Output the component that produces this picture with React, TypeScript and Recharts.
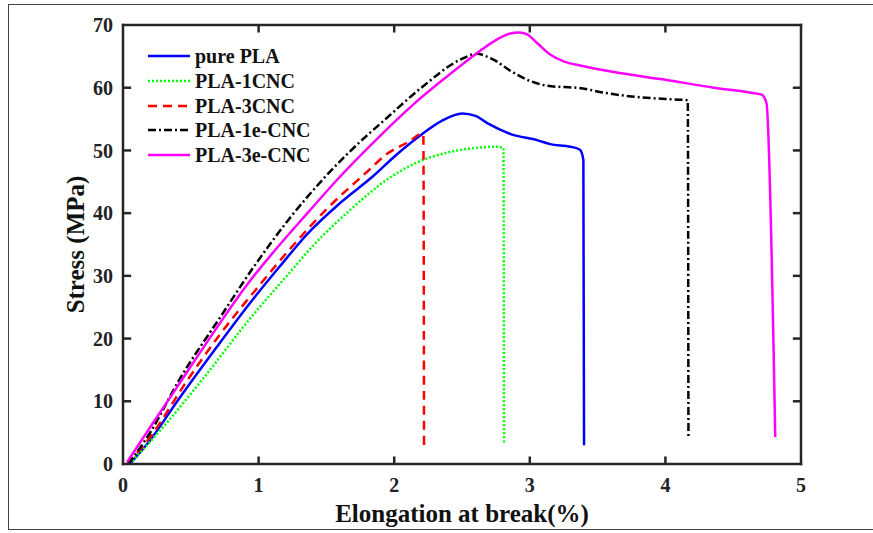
import React from 'react';
import { LineChart, Line, XAxis, YAxis, Legend, ReferenceLine } from 'recharts';

const xTicks = [0, 1, 2, 3, 4, 5];
const yTicks = [0, 10, 20, 30, 40, 50, 60, 70];

const purePLA = [
  { x: 0.05, y: 0 }, { x: 0.2, y: 3.8 }, { x: 0.4, y: 10.0 }, { x: 0.69, y: 18.6 }, { x: 0.96, y: 26.3 },
  { x: 1.16, y: 31.6 }, { x: 1.36, y: 36.7 }, { x: 1.6, y: 41.6 }, { x: 1.85, y: 46.0 }, { x: 2.0, y: 49.0 },
  { x: 2.2, y: 52.5 }, { x: 2.35, y: 54.7 }, { x: 2.5, y: 55.9 }, { x: 2.6, y: 55.5 }, { x: 2.69, y: 54.3 },
  { x: 2.86, y: 52.6 }, { x: 3.06, y: 51.6 }, { x: 3.15, y: 51.0 }, { x: 3.3, y: 50.6 }, { x: 3.37, y: 50.1 },
  { x: 3.395, y: 48.5 }, { x: 3.4, y: 3.0 },
];

const pla1CNC = [
  { x: 0.05, y: 0 }, { x: 0.3, y: 6.0 }, { x: 0.59, y: 13.6 }, { x: 0.96, y: 23.8 }, { x: 1.2, y: 29.8 },
  { x: 1.41, y: 35.0 }, { x: 1.68, y: 40.6 }, { x: 1.95, y: 45.4 }, { x: 2.15, y: 47.9 }, { x: 2.42, y: 49.8 },
  { x: 2.6, y: 50.4 }, { x: 2.74, y: 50.6 }, { x: 2.805, y: 50.4 }, { x: 2.81, y: 3.3 },
];

const pla3CNC = [
  { x: 0.03, y: 0 }, { x: 0.2, y: 4.3 }, { x: 0.47, y: 13.2 }, { x: 0.72, y: 20.8 }, { x: 1.01, y: 28.6 },
  { x: 1.26, y: 35.0 }, { x: 1.5, y: 40.6 }, { x: 1.8, y: 46.6 }, { x: 1.95, y: 49.5 }, { x: 2.1, y: 51.3 },
  { x: 2.21, y: 52.7 }, { x: 2.215, y: 52.4 }, { x: 2.22, y: 3.0 },
];

const pla1eCNC = [
  { x: 0.04, y: 0 }, { x: 0.2, y: 5.0 }, { x: 0.42, y: 13.6 }, { x: 0.72, y: 23.5 }, { x: 0.96, y: 31.3 },
  { x: 1.23, y: 39.2 }, { x: 1.5, y: 46.0 }, { x: 1.8, y: 52.4 }, { x: 1.9, y: 54.3 }, { x: 2.2, y: 60.0 },
  { x: 2.49, y: 64.5 }, { x: 2.61, y: 65.4 }, { x: 2.72, y: 64.6 }, { x: 2.88, y: 62.4 }, { x: 3.0, y: 61.1 },
  { x: 3.13, y: 60.3 }, { x: 3.38, y: 59.9 }, { x: 3.55, y: 59.2 }, { x: 3.75, y: 58.6 }, { x: 4.0, y: 58.2 },
  { x: 4.165, y: 58.0 }, { x: 4.17, y: 4.0 },
];

const pla3eCNC = [
  { x: 0.03, y: 0.3 }, { x: 0.22, y: 6.5 }, { x: 0.4, y: 12.3 }, { x: 0.6, y: 18.8 }, { x: 0.94, y: 29.3 },
  { x: 1.11, y: 33.8 }, { x: 1.36, y: 40.0 }, { x: 1.6, y: 45.8 }, { x: 1.9, y: 52.4 }, { x: 2.15, y: 57.5 },
  { x: 2.39, y: 61.8 }, { x: 2.61, y: 65.5 }, { x: 2.75, y: 67.6 }, { x: 2.85, y: 68.6 }, { x: 2.92, y: 68.8 },
  { x: 2.98, y: 68.5 }, { x: 3.06, y: 67.0 }, { x: 3.15, y: 65.3 }, { x: 3.25, y: 64.2 }, { x: 3.38, y: 63.5 },
  { x: 3.62, y: 62.5 }, { x: 3.99, y: 61.3 }, { x: 4.36, y: 60.0 }, { x: 4.63, y: 59.2 }, { x: 4.71, y: 58.9 },
  { x: 4.745, y: 57.6 }, { x: 4.81, y: 4.3 },
];

const series = [
  { name: 'pure PLA', data: purePLA, color: '#0000ff', dash: undefined as string | undefined },
  { name: 'PLA-1CNC', data: pla1CNC, color: '#00ff00', dash: '2 2' },
  { name: 'PLA-3CNC', data: pla3CNC, color: '#ff0000', dash: '9 6' },
  { name: 'PLA-1e-CNC', data: pla1eCNC, color: '#000000', dash: '8 3 2 3' },
  { name: 'PLA-3e-CNC', data: pla3eCNC, color: '#ff00ff', dash: undefined as string | undefined },
];

const X_MIN = 0;
const X_MAX = 5;
const Y_MIN = 0;
const Y_MAX = 70;
// inward tick-mark lengths, in data units
const X_TICK_LEN = 0.06;
const Y_TICK_LEN = 1.2;

const FONT = '"Liberation Serif", "Times New Roman", serif';
const AXIS = '#262626';

const BottomTick = (props: any) => {
  const { x, y, payload } = props;
  return (
    <text x={x} y={y + 14} dy="0.71em" textAnchor="middle" fontFamily={FONT} fontSize={20} fontWeight="bold" fill="#222">
      {payload.value}
    </text>
  );
};

const LeftTick = (props: any) => {
  const { x, y, payload } = props;
  return (
    <text x={x - 10} y={y} dy="0.355em" textAnchor="end" fontFamily={FONT} fontSize={20} fontWeight="bold" fill="#222">
      {payload.value}
    </text>
  );
};

function LegendContent() {
  return (
    <div style={{ fontFamily: FONT, fontWeight: 'bold', fontSize: 20, color: '#111' }}>
      {series.map((s) => (
        <div key={s.name} style={{ display: 'flex', alignItems: 'center', height: 24.7 }}>
          <svg width={44} height={10} style={{ marginRight: 3 }}>
            <line x1={0} y1={5} x2={42} y2={5} stroke={s.color} strokeWidth={2.5} strokeDasharray={s.dash} />
          </svg>
          <span style={{ lineHeight: '24px' }}>{s.name}</span>
        </div>
      ))}
    </div>
  );
}

export default function App() {
  // frame of the plot box, from the axis domains
  const boxSegments: { x: number; y: number }[][] = [
    [{ x: X_MIN, y: Y_MIN }, { x: X_MAX, y: Y_MIN }],
    [{ x: X_MIN, y: Y_MAX }, { x: X_MAX, y: Y_MAX }],
    [{ x: X_MIN, y: Y_MIN }, { x: X_MIN, y: Y_MAX }],
    [{ x: X_MAX, y: Y_MIN }, { x: X_MAX, y: Y_MAX }],
  ];
  const tickSegments: { x: number; y: number }[][] = [];
  xTicks.slice(1, -1).forEach((v) => {
    tickSegments.push([{ x: v, y: Y_MIN }, { x: v, y: Y_MIN + Y_TICK_LEN }]);
    tickSegments.push([{ x: v, y: Y_MAX }, { x: v, y: Y_MAX - Y_TICK_LEN }]);
  });
  yTicks.slice(1, -1).forEach((v) => {
    tickSegments.push([{ x: X_MIN, y: v }, { x: X_MIN + X_TICK_LEN, y: v }]);
    tickSegments.push([{ x: X_MAX, y: v }, { x: X_MAX - X_TICK_LEN, y: v }]);
  });

  return (
    <div style={{ position: 'absolute', left: 0, top: 0, width: 873, height: 533, background: '#fff', overflow: 'hidden' }}>
      <div
        style={{
          position: 'absolute', left: 8, top: 4, width: 880, height: 526,
          border: '1.5px solid #444', boxSizing: 'border-box',
        }}
      />
      <div style={{ position: 'absolute', left: 0, top: 0 }}>
        <LineChart width={873} height={533} margin={{ top: 25, right: 72, bottom: 9, left: 63 }}>
          <XAxis
            xAxisId="bottom"
            dataKey="x"
            type="number"
            domain={[X_MIN, X_MAX]}
            ticks={xTicks}
            interval={0}
            allowDataOverflow
            height={60}
            stroke={AXIS}
            strokeWidth={2}
            tickLine={false}
            tickSize={0}
            tickMargin={0}
            tick={(p: any) => <BottomTick {...p} />}
            label={{ value: 'Elongation at break(%)', position: 'insideBottom', offset: 2, style: { fontFamily: FONT, fontSize: 25, fontWeight: 'bold', fill: '#111' } }}
          />
          <XAxis xAxisId="top" orientation="top" mirror type="number" domain={[X_MIN, X_MAX]} ticks={xTicks}
            height={0} stroke={AXIS} strokeWidth={2} tickLine={false} tick={false} />
          <YAxis
            yAxisId="left"
            type="number"
            domain={[Y_MIN, Y_MAX]}
            ticks={yTicks}
            interval={0}
            width={60}
            stroke={AXIS}
            strokeWidth={2}
            tickLine={false}
            tickSize={0}
            tickMargin={0}
            tick={(p: any) => <LeftTick {...p} />}
            label={{ value: 'Stress (MPa)', angle: -90, position: 'center', dx: -18, style: { fontFamily: FONT, fontSize: 25, fontWeight: 'bold', fill: '#111', textAnchor: 'middle' } }}
          />
          <YAxis yAxisId="right" orientation="right" mirror type="number" domain={[Y_MIN, Y_MAX]} ticks={yTicks}
            width={0} stroke={AXIS} strokeWidth={2} tickLine={false} tick={false} />
          <Legend
            verticalAlign="middle"
            align="center"
            layout="horizontal"
            content={<LegendContent />}
            wrapperStyle={{ position: 'absolute', left: 148, top: 44, width: 200, height: 130 }}
          />
          {boxSegments.map((seg, i) => (
            <ReferenceLine
              key={`box-${i}`}
              xAxisId="bottom"
              yAxisId="left"
              segment={seg}
              stroke={AXIS}
              strokeWidth={2.5}
              strokeLinecap="square"
              ifOverflow="visible"
            />
          ))}
          {tickSegments.map((seg, i) => (
            <ReferenceLine
              key={`tick-${i}`}
              xAxisId="bottom"
              yAxisId="left"
              segment={seg}
              stroke={AXIS}
              strokeWidth={2.5}
              ifOverflow="visible"
            />
          ))}
          {series.map((s) => (
            <Line
              key={s.name}
              xAxisId="bottom"
              yAxisId="left"
              data={s.data}
              dataKey="y"
              name={s.name}
              type="monotone"
              stroke={s.color}
              strokeWidth={2.5}
              strokeDasharray={s.dash}
              dot={false}
              activeDot={false}
              isAnimationActive={false}
            />
          ))}
        </LineChart>
      </div>
    </div>
  );
}
